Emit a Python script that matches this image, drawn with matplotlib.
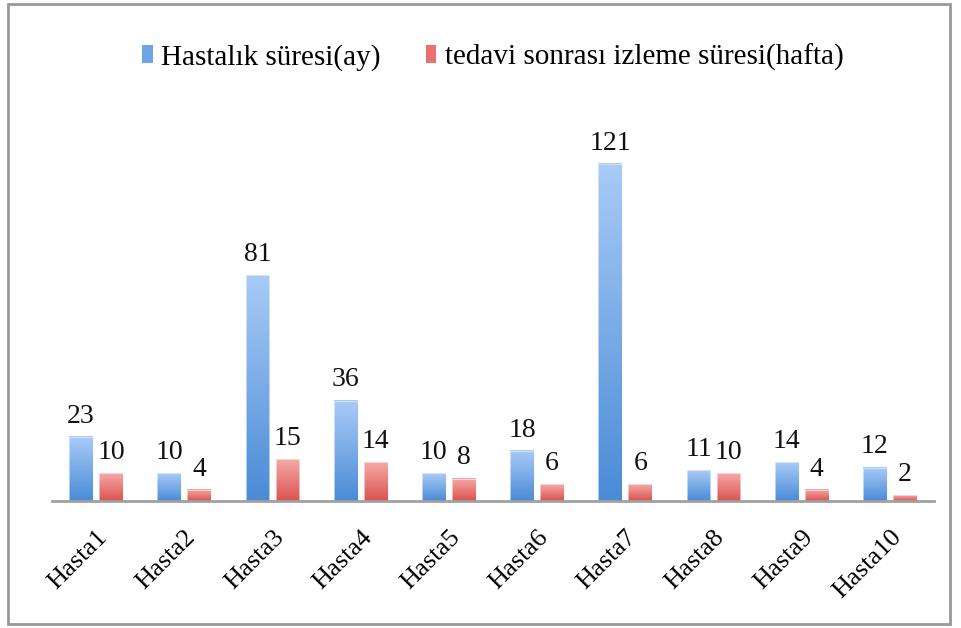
import numpy as np
import matplotlib
matplotlib.use("Agg")
import matplotlib.pyplot as plt
from matplotlib.colors import LinearSegmentedColormap
from matplotlib.patches import Rectangle, Patch

plt.rcParams['font.family'] = ['Liberation Serif', 'DejaVu Serif']

#chart data
patients = ["Hasta1", "Hasta2", "Hasta3", "Hasta4", "Hasta5",
            "Hasta6", "Hasta7", "Hasta8", "Hasta9", "Hasta10"]
disease_months = [23, 10, 81, 36, 10, 18, 121, 11, 14, 12]
followup_weeks = [10, 4, 15, 14, 8, 6, 6, 10, 4, 2]
series_names = ["Hastalık süresi(ay)", "tedavi sonrası izleme süresi(hafta)"]

W, H = 961, 628
fig = plt.figure(figsize=(W / 100, H / 100), dpi=100)
ax = fig.add_axes([52 / W, (H - 501) / H, (934 - 52) / W, 390 / H])

blue_cmap = LinearSegmentedColormap.from_list("b", ["#4a8bd6", "#a9cbf7"])
red_cmap = LinearSegmentedColormap.from_list("r", ["#d9534f", "#f7a9a8"])

x = np.arange(len(patients))
width = 0.27
off = 0.17
bars1 = ax.bar(x - off, disease_months, width, color="none", edgecolor="none")
bars2 = ax.bar(x + off, followup_weeks, width, color="none", edgecolor="none")

#fill each bar with a vertical gradient
grad = np.linspace(0, 1, 256).reshape(-1, 1)
for bars, cmap in [(bars1, blue_cmap), (bars2, red_cmap)]:
    for b in bars:
        x0, y0 = b.get_x(), b.get_y()
        w, h = b.get_width(), b.get_height()
        ax.imshow(grad, cmap=cmap, origin="lower", aspect="auto",
                  extent=[x0, x0 + w, y0, y0 + h], zorder=2)
        ax.add_patch(Rectangle((x0, y0), w, h, fill=False,
                               edgecolor="#f4f8fc", lw=0.4, zorder=3))
        ax.annotate(str(int(h)), (x0 + w / 2, h), xytext=(0, 6),
                    textcoords="offset points", ha="center", va="bottom",
                    fontsize=20, color="#111111")

ax.set_xlim(-0.5, 9.5)
ax.set_ylim(0, 140)
for s in ["top", "right", "left"]:
    ax.spines[s].set_visible(False)
ax.spines["bottom"].set_color("#a0a0a0")
ax.spines["bottom"].set_linewidth(2)
ax.spines["bottom"].set_zorder(4)
ax.set_yticks([])
ax.set_xticks(x)
ax.set_xticklabels(patients, rotation=45, ha="right", va="top",
                   rotation_mode="anchor", fontsize=19)
ax.tick_params(axis="x", length=0, pad=18)

handles = [Patch(facecolor="#6fa5e8"), Patch(facecolor="#e8716f")]
fig.legend(handles, series_names, loc="center", bbox_to_anchor=(0.513, 1 - 57 / H),
           ncol=2, frameon=False, fontsize=21, handlelength=0.35,
           handleheight=0.6, handletextpad=0.3, columnspacing=1.55)

#gray frame around the chart
fig.patches.append(Rectangle((8 / W, 4 / H), (950 - 8) / W, (624 - 4) / H,
                             transform=fig.transFigure, fill=False,
                             edgecolor="#999999", lw=2))

fig.savefig("out.png", dpi=100)
